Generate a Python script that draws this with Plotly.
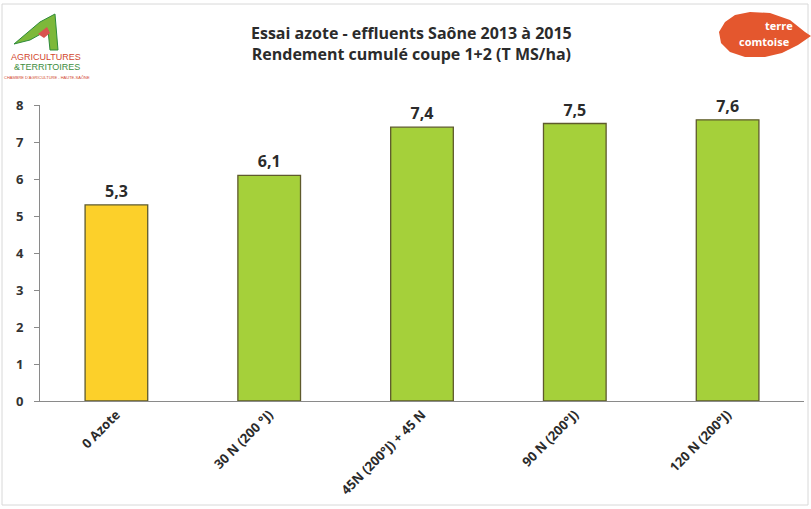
import plotly.graph_objects as go

categories = ["0 Azote", "30 N (200 °J)", "45N (200°J) + 45 N", "90 N (200°J)", "120 N (200°J)"]
values = [5.3, 6.1, 7.4, 7.5, 7.6]
value_labels = ["5,3", "6,1", "7,4", "7,5", "7,6"]
bar_colors = ["#FCD02A", "#A5D03A", "#A5D03A", "#A5D03A", "#A5D03A"]
y_ticks = [0, 1, 2, 3, 4, 5, 6, 7, 8]

W, H = 811, 509
L, R, T, B = 40, 7, 105, 108
PW, PH = W - L - R, H - T - B


def px(x):
    return (x - L) / PW


def py(y):
    return (H - B - y) / PH


font_main = "Open Sans, Liberation Sans, sans-serif"

fig = go.Figure()
fig.add_trace(go.Bar(
    x=categories, y=values,
    marker=dict(color=bar_colors, line=dict(color="#5E5A2C", width=1.3)),
    text=value_labels, textposition="outside", cliponaxis=False,
    textfont=dict(family=font_main, size=16, color="#2b2b2b", weight="bold"),
    hoverinfo="skip",
))

fig.update_layout(
    width=W, height=H,
    margin=dict(l=L, r=R, t=T, b=B),
    paper_bgcolor="white", plot_bgcolor="white",
    bargap=0.59,
    showlegend=False,
    font=dict(family=font_main, color="#2b2b2b"),
)
fig.update_yaxes(
    range=[0, 8], tickvals=y_ticks, ticktext=[str(v) for v in y_ticks],
    showgrid=False, zeroline=False,
    showline=True, linecolor="#8a8a8a", linewidth=1,
    ticks="outside", ticklen=5, tickcolor="#8a8a8a",
    tickfont=dict(size=13, color="#333333", family=font_main, weight="bold"),
    ticklabelstandoff=8,
)
fig.update_xaxes(
    showgrid=False, showline=True, linecolor="#8a8a8a", linewidth=1,
    ticks="", tickangle=-45,
    tickfont=dict(size=13, color="#2b2b2b", family=font_main, weight="bold"),
)

# Title
fig.add_annotation(
    text="<b>Essai azote - effluents Saône 2013 à 2015</b><br><b>Rendement cumulé coupe 1+2 (T MS/ha)</b>",
    xref="paper", yref="paper", x=px(411), y=py(44), xanchor="center", yanchor="middle",
    showarrow=False, font=dict(size=16, color="#2b2b2b", family=font_main), align="center",
)

shapes = []
# Faint scanned frame
shapes.append(dict(type="rect", xref="paper", yref="paper",
                   x0=px(2), x1=px(808), y0=py(505), y1=py(4),
                   line=dict(color="#d8d8d8", width=1), fillcolor="rgba(0,0,0,0)", layer="below"))


def path_px(points):
    s = ""
    for i, (x, y) in enumerate(points):
        s += ("M" if i == 0 else "L") + f"{px(x):.5f},{py(y):.5f} "
    return s + "Z"


# Right logo: terre comtoise teardrop
blob = [(725, 22), (735, 15), (750, 12), (770, 13), (790, 20), (805, 32), (811, 36),
        (798, 45), (782, 53), (765, 57), (745, 57), (730, 52), (721, 43), (719, 32)]
shapes.append(dict(type="path", xref="paper", yref="paper", path=path_px(blob),
                   fillcolor="#E4572E", line=dict(color="#E4572E", width=0)))

# Left logo: green arrow/triangle
tri = [(14, 44), (40, 22), (55, 14), (58, 50), (50, 50), (48, 30), (30, 40)]
shapes.append(dict(type="path", xref="paper", yref="paper", path=path_px(tri),
                   fillcolor="#7DB83A", line=dict(color="#2E8B3A", width=1)))
tri2 = [(38, 34), (47, 27), (50, 33), (44, 38)]
shapes.append(dict(type="path", xref="paper", yref="paper", path=path_px(tri2),
                   fillcolor="#D9534F", line=dict(width=0)))
fig.update_layout(shapes=shapes)

fig.add_annotation(text="<b>terre</b>", xref="paper", yref="paper", x=px(795), y=py(25),
                   xanchor="right", yanchor="middle", showarrow=False,
                   font=dict(size=11, color="white", family=font_main))
fig.add_annotation(text="<b>comtoise</b>", xref="paper", yref="paper", x=px(764), y=py(41),
                   xanchor="center", yanchor="middle", showarrow=False,
                   font=dict(size=11, color="white", family=font_main))
fig.add_annotation(text="AGRICULTURES", xref="paper", yref="paper", x=px(46), y=py(57),
                   xanchor="center", yanchor="middle", showarrow=False,
                   font=dict(size=9, color="#D2472E", family="Liberation Sans Narrow, Liberation Sans, sans-serif"))
fig.add_annotation(text="&amp;TERRITOIRES", xref="paper", yref="paper", x=px(47), y=py(67),
                   xanchor="center", yanchor="middle", showarrow=False,
                   font=dict(size=9, color="#3E8E3E", family="Liberation Sans Narrow, Liberation Sans, sans-serif"))
fig.add_annotation(text="CHAMBRE D'AGRICULTURE - HAUTE-SAÔNE", xref="paper", yref="paper", x=px(47), y=py(77),
                   xanchor="center", yanchor="middle", showarrow=False,
                   font=dict(size=4, color="#D2472E", family="Liberation Sans Narrow, Liberation Sans, sans-serif"))

fig.write_html("out.html")
